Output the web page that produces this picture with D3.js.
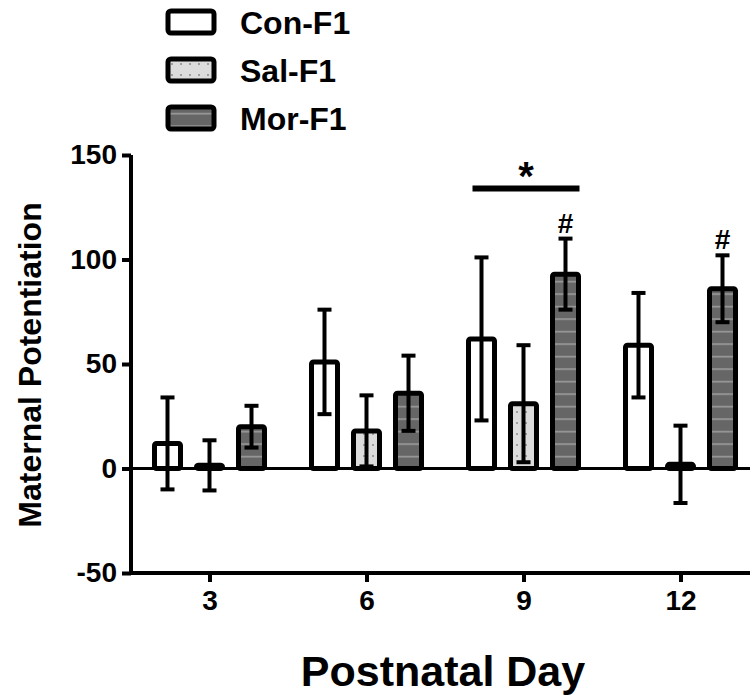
<!DOCTYPE html>
<html>
<head>
<meta charset="utf-8">
<script src="https://cdn.jsdelivr.net/npm/d3@7"></script>
<style>
  body { margin: 0; background: #fff; }
  svg { display: block; font-family: "Liberation Sans", Arial, sans-serif; font-weight: bold; }
</style>
</head>
<body>
<script>
// chart data
var days = [3, 6, 9, 12];
var groups = ["Con-F1", "Sal-F1", "Mor-F1"];
var conMean = [12, 51, 62, 59];
var conSem = [22, 25, 39, 25];
var salMean = [1.5, 18, 31, 2];
var salSem = [12, 17, 28, 18.5];
var morMean = [20, 36, 93, 86];
var morSem = [10, 18, 17, 16];
var yTicks = [-50, 0, 50, 100, 150];
var hashMarks = [{day: 9, group: "Mor-F1"}, {day: 12, group: "Mor-F1"}];
var sigBar = {from: 9, to: 9, fromGroup: "Con-F1", toGroup: "Mor-F1", y: 134, label: "*"};

var W = 750, H = 695;

var svg = d3.select("body").append("svg")
    .attr("width", W)
    .attr("height", H);

// patterns
var defs = svg.append("defs");
var dots = defs.append("pattern")
    .attr("id", "dots")
    .attr("patternUnits", "userSpaceOnUse")
    .attr("width", 9).attr("height", 11);
dots.append("rect").attr("width", 9).attr("height", 11).attr("fill", "#dcdcdc");
dots.append("circle").attr("cx", 4).attr("cy", 5).attr("r", 1).attr("fill", "#8a8a8a");

var stripes = defs.append("pattern")
    .attr("id", "stripes")
    .attr("patternUnits", "userSpaceOnUse")
    .attr("width", 10).attr("height", 12.5);
stripes.append("rect").attr("width", 10).attr("height", 12.5).attr("fill", "#666");
stripes.append("rect").attr("y", 6).attr("width", 10).attr("height", 1.3).attr("fill", "#a8a8a8");

var fills = {"Con-F1": "#fff", "Sal-F1": "url(#dots)", "Mor-F1": "url(#stripes)"};

// scales
var x = d3.scaleLinear().domain([1.5, 13.5]).range([131, 759]);
var y = d3.scaleLinear().domain([-50, 150]).range([573, 155]);
var offset = d3.scalePoint().domain(groups).range([-42, 42]);
var barW = 26;

// build rows
var data = [];
days.forEach(function(d, i) {
  data.push({day: d, group: "Con-F1", mean: conMean[i], sem: conSem[i]});
  data.push({day: d, group: "Sal-F1", mean: salMean[i], sem: salSem[i]});
  data.push({day: d, group: "Mor-F1", mean: morMean[i], sem: morSem[i]});
});

function cx(d) { return x(d.day) + offset(d.group); }

// zero line
svg.append("line")
    .attr("x1", x(1.5)).attr("x2", W)
    .attr("y1", y(0)).attr("y2", y(0))
    .attr("stroke", "#000").attr("stroke-width", 3);

// bars
svg.selectAll("rect.bar")
  .data(data)
  .enter().append("rect")
    .attr("class", "bar")
    .attr("x", function(d) { return cx(d) - barW / 2; })
    .attr("y", function(d) { return y(Math.max(d.mean, 0)); })
    .attr("width", barW)
    .attr("height", function(d) { return Math.max(Math.abs(y(0) - y(d.mean)), 1); })
    .attr("rx", 2)
    .attr("fill", function(d) { return fills[d.group]; })
    .attr("stroke", "#000")
    .attr("stroke-width", 5)
    .attr("stroke-linejoin", "round");

// error bars
var err = svg.selectAll("g.err")
  .data(data)
  .enter().append("g")
    .attr("class", "err")
    .attr("stroke", "#000")
    .attr("stroke-width", 4);

err.append("line")
    .attr("x1", cx).attr("x2", cx)
    .attr("y1", function(d) { return y(d.mean + d.sem); })
    .attr("y2", function(d) { return y(d.mean - d.sem); });
err.append("line")
    .attr("x1", function(d) { return cx(d) - 7; })
    .attr("x2", function(d) { return cx(d) + 7; })
    .attr("y1", function(d) { return y(d.mean + d.sem); })
    .attr("y2", function(d) { return y(d.mean + d.sem); });
err.append("line")
    .attr("x1", function(d) { return cx(d) - 7; })
    .attr("x2", function(d) { return cx(d) + 7; })
    .attr("y1", function(d) { return y(d.mean - d.sem); })
    .attr("y2", function(d) { return y(d.mean - d.sem); });

// y axis
var yAxis = svg.append("g")
    .attr("transform", "translate(" + x(1.5) + ",0)")
    .call(d3.axisLeft(y).tickValues(yTicks).tickSize(9).tickPadding(5)
      .tickFormat(function(d) { return String(d); }));
yAxis.select(".domain").attr("stroke-width", 4).attr("d", "M0," + y(150) + "V" + y(-50));
yAxis.selectAll(".tick line").attr("stroke-width", 4);
yAxis.selectAll("text").attr("font-size", 28).attr("font-weight", "bold")
    .attr("font-family", "Liberation Sans, Arial, sans-serif").attr("fill", "#000");

// x axis
var xAxis = svg.append("g")
    .attr("transform", "translate(0," + y(-50) + ")")
    .call(d3.axisBottom(x).tickValues(days).tickSize(9).tickPadding(8));
xAxis.select(".domain").attr("stroke-width", 4).attr("d", "M" + x(1.5) + ",0H" + W);
xAxis.selectAll(".tick line").attr("stroke-width", 4);
xAxis.selectAll("text").attr("font-size", 28).attr("font-weight", "bold")
    .attr("font-family", "Liberation Sans, Arial, sans-serif").attr("fill", "#000");

// axis titles
svg.append("text")
    .attr("transform", "translate(41,365) rotate(-90)")
    .attr("text-anchor", "middle")
    .attr("font-size", 32)
    .text("Maternal Potentiation");

svg.append("text")
    .attr("x", 443).attr("y", 686)
    .attr("text-anchor", "middle")
    .attr("font-size", 43)
    .text("Postnatal Day");

// hash marks
svg.selectAll("text.hash")
  .data(hashMarks)
  .enter().append("text")
    .attr("class", "hash")
    .attr("x", function(d) { return x(d.day) + offset(d.group); })
    .attr("y", function(d) {
      var row = data.find(function(r) { return r.day === d.day && r.group === d.group; });
      return y(row.mean + row.sem) - 6;
    })
    .attr("text-anchor", "middle")
    .attr("font-size", 28)
    .text("#");

// significance bar
var sx1 = x(sigBar.from) + offset(sigBar.fromGroup) - 9;
var sx2 = x(sigBar.to) + offset(sigBar.toGroup) + 14;
svg.append("line")
    .attr("x1", sx1).attr("x2", sx2)
    .attr("y1", y(sigBar.y)).attr("y2", y(sigBar.y))
    .attr("stroke", "#000").attr("stroke-width", 6);
svg.append("text")
    .attr("x", (sx1 + sx2) / 2).attr("y", y(sigBar.y) + 2)
    .attr("text-anchor", "middle")
    .attr("font-size", 40)
    .text(sigBar.label);

// legend
var legend = svg.selectAll("g.legend")
  .data(groups)
  .enter().append("g")
    .attr("class", "legend")
    .attr("transform", function(d, i) { return "translate(168," + (11 + i * 48) + ")"; });
legend.append("rect")
    .attr("width", 46).attr("height", 22).attr("rx", 3)
    .attr("fill", function(d) { return fills[d]; })
    .attr("stroke", "#000").attr("stroke-width", 5);
legend.append("text")
    .attr("x", 72).attr("y", 23)
    .attr("font-size", 32)
    .text(function(d) { return d; });
</script>
</body>
</html>
